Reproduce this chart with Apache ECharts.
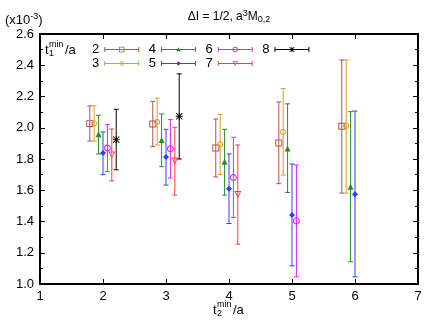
<!DOCTYPE html>
<html><head><meta charset="utf-8">
<script src="https://cdn.jsdelivr.net/npm/echarts@6/dist/echarts.min.js"></script>
<style>html,body{margin:0;padding:0;background:#fff}#c{width:436px;height:327px}</style>
</head><body><div id="c"></div>
<script>
// ---- data ----
const t2Values = [2, 3, 4, 5, 6];
const seriesNames = ['2', '3', '4', '5', '6', '7', '8'];
// each entry: [value, low, high] at t2 = 2..6 (null = not present), in units of 1e-3
const s2 = [[2.028,1.915,2.140],[2.024,1.879,2.169],[1.870,1.685,2.056],[1.902,1.642,2.165],[2.009,1.582,2.434]];
const s3 = [[2.028,1.915,2.140],[2.037,1.890,2.189],[1.894,1.700,2.084],[1.973,1.697,2.251],[2.012,1.582,2.434]];
const s4 = [[1.958,1.832,2.080],[1.922,1.751,2.088],[1.783,1.569,1.990],[1.868,1.586,2.153],[1.622,1.142,2.103]];
const s5 = [[1.838,1.700,1.973],[1.813,1.633,1.990],[1.610,1.387,1.832],[1.441,1.116,1.768],[1.575,1.046,2.107]];
const s6 = [[1.870,1.720,2.020],[1.866,1.678,2.052],[1.682,1.426,1.939],[1.404,1.046,1.761],null];
const s7 = [[1.825,1.660,1.992],[1.787,1.569,2.003],[1.573,1.255,1.890],null,null];
const s8 = [[1.924,1.731,2.118],[2.073,1.800,2.345],null,null,null];
const allSeries = [s2, s3, s4, s5, s6, s7, s8];
const xTickLabels = ['1','2','3','4','5','6','7'];
const yTickLabels = ['1.0','1.2','1.4','1.6','1.8','2.0','2.2','2.4','2.6'];

// ---- styles ----
const FONT = 'Liberation Sans, Arial, Helvetica, sans-serif';
const colors = ['#c24a4a', '#d4a020', '#2a8a2a', '#2a40ff', '#dd22ff', '#ff3a3a', '#000000'];
const jitter = 0.07; // horizontal display offset between series
function rectP(x0,y0,x1,y1,rev){ return rev ? `M${x0},${y0}L${x0},${y1}L${x1},${y1}L${x1},${y0}Z` : `M${x0},${y0}L${x1},${y0}L${x1},${y1}L${x0},${y1}Z`; }
function polyP(pts, rev){ if (rev) pts = pts.slice().reverse(); return 'M' + pts.map(p => p[0].toFixed(2)+','+p[1].toFixed(2)).join('L') + 'Z'; }
function circ(cx,cy,r,n){ n = n||24; const a=[]; for(let i=0;i<n;i++){const t=2*Math.PI*i/n; a.push([cx+r*Math.cos(t), cy+r*Math.sin(t)]);} return a; }
// marker shapes in a 0..100 box
const mk = {
  square: rectP(0,0,100,100) + rectP(14,14,86,86,true),
  circle: polyP(circ(50,50,50)) + polyP(circ(50,50,34), true),
  tri: polyP([[50,0],[100,90],[0,90]]),
  diamond: polyP([[50,0],[100,50],[50,100],[0,50]]),
  invtri: polyP([[0,5],[100,5],[50,95]]) + polyP([[20,17],[80,17],[50,70]], true),
  star: rectP(43,0,57,100) + rectP(0,43,100,57) + polyP([[10,0],[100,90],[90,100],[0,10]]) + polyP([[90,0],[100,10],[10,100],[0,90]])
};
const markerKind = ['square','circle','tri','diamond','circle','invtri','star'];
const markerSize = [7, 6, 6, 6, 7, 7, 7];
function placeMarker(path, size){
  const s = size*10/100, ox = 175 - size*5, oy = 40 - size*5;
  return path.replace(/(-?\d+(\.\d+)?),(-?\d+(\.\d+)?)/g, (m,a,b,c) => (ox + parseFloat(a)*s).toFixed(2) + ',' + (oy + parseFloat(c)*s).toFixed(2));
}
function legendIcon(i){
  let p = rectP(0,0,1,1) + rectP(0,79,1,80); // bbox anchors (tiny)
  p += rectP(0,35,350,45) + rectP(0,15,10,65) + rectP(340,15,350,65);
  p += placeMarker(mk[markerKind[i]], markerSize[i] - 1.5);
  return 'path://' + p;
}

const series = [];
seriesNames.forEach((name, i) => {
  const off = (i - 3) * jitter;
  const data = [];
  allSeries[i].forEach((v, j) => { if (v) data.push([t2Values[j] + off, v[0], v[1], v[2]]); });
  const col = colors[i];
  series.push({
    name, type: 'custom', xAxisIndex: 0, yAxisIndex: 0, z: 2,
    encode: { x: 0, y: [2, 3] },
    data,
    renderItem(params, api) {
      const x = api.value(0);
      const p1 = api.coord([x, api.value(2)]), p2 = api.coord([x, api.value(3)]);
      const w = 2.5, st = { stroke: col, lineWidth: 1 };
      return { type: 'group', children: [
        { type: 'line', shape: { x1: p1[0], y1: p1[1], x2: p2[0], y2: p2[1] }, style: st },
        { type: 'line', shape: { x1: p1[0]-w, y1: p1[1], x2: p1[0]+w, y2: p1[1] }, style: st },
        { type: 'line', shape: { x1: p2[0]-w, y1: p2[1], x2: p2[0]+w, y2: p2[1] }, style: st }
      ]};
    }
  });
  series.push({
    name, type: 'scatter', xAxisIndex: 0, yAxisIndex: 0, z: 3,
    data: data.map(d => [d[0], d[1]]),
    symbol: 'path://' + mk[markerKind[i]],
    symbolSize: markerSize[i],
    itemStyle: { color: col, opacity: 1 },
    emphasis: { disabled: true }
  });
});

function legendData(names){
  return names.map(n => { const i = seriesNames.indexOf(n); return { name: n, icon: legendIcon(i), itemStyle: { color: colors[i], borderWidth: 0 } }; });
}
const legendBase = {
  orient: 'horizontal', align: 'right', itemWidth: 35, itemHeight: 8, itemGap: 9.5,
  symbolRotate: 0, selectedMode: false,
  textStyle: { fontSize: 13, color: '#000', fontFamily: FONT }
};

const axisCommon = {
  axisLine: { show: true, lineStyle: { color: '#000', width: 2 } },
  axisTick: { show: true, inside: true, length: 5, lineStyle: { color: '#000', width: 1 } },
  splitLine: { show: false }
};
const xBase = Object.assign({ type: 'value', min: 1, max: 7, interval: 1 }, axisCommon);
const yBase = Object.assign({ type: 'value', min: 1.0, max: 2.6, interval: 0.2,
  minorTick: { show: true, splitNumber: 2, length: 3, lineStyle: { color: '#000', width: 1 } } }, axisCommon);

function stackedLabel(x, y, sub){
  return { type: 'group', x, y, children: [
    { type: 'text', x: 0, y: 0, style: { text: 't', fontSize: 13, fontFamily: FONT, fill: '#000', verticalAlign: 'middle' } },
    { type: 'text', x: 4, y: -5, style: { text: 'min', fontSize: 9, fontFamily: FONT, fill: '#000', verticalAlign: 'middle' } },
    { type: 'text', x: 4, y: 4, style: { text: sub, fontSize: 9, fontFamily: FONT, fill: '#000', verticalAlign: 'middle' } },
    { type: 'text', x: 20, y: 0, style: { text: '/a', fontSize: 13, fontFamily: FONT, fill: '#000', verticalAlign: 'middle' } }
  ]};
}

const chart = echarts.init(document.getElementById('c'), null, { renderer: 'canvas' });
chart.setOption({
  animation: false,
  backgroundColor: '#fff',
  grid: { left: 40, right: 18, top: 34, bottom: 43 },
  xAxis: [
    Object.assign({}, xBase, { position: 'bottom',
      axisLabel: { fontSize: 13, color: '#000', fontFamily: FONT, margin: 6,
        formatter: v => xTickLabels[Math.round(v) - 1] } }),
    Object.assign({}, xBase, { position: 'top', axisLabel: { show: false } })
  ],
  yAxis: [
    Object.assign({}, yBase, { position: 'left',
      axisLabel: { fontSize: 13, color: '#000', fontFamily: FONT, margin: 6,
        formatter: v => yTickLabels[Math.round((v - 1.0) / 0.2)] } }),
    Object.assign({}, yBase, { position: 'right', axisLabel: { show: false } })
  ],
  legend: [
    Object.assign({}, legendBase, { left: 87, top: 38, data: legendData(['2','4','6','8']) }),
    Object.assign({}, legendBase, { left: 87, top: 52, data: legendData(['3','5','7']) })
  ],
  graphic: [
    { type: 'text', x: 229, y: 17, style: { text: 'ΔI = 1/2, a{sup|3}M{sub|0,2}', fontSize: 12, fontFamily: FONT, fill: '#000',
      align: 'center', verticalAlign: 'middle',
      rich: { sup: { fontSize: 9, fontFamily: FONT, padding: [0,0,6,0] }, sub: { fontSize: 9, fontFamily: FONT, padding: [6,0,0,0] } } } },
    { type: 'text', x: 5, y: 20, style: { text: '(x10{sup|-3})', fontSize: 13, fontFamily: FONT, fill: '#000',
      align: 'left', verticalAlign: 'middle',
      rich: { sup: { fontSize: 9, fontFamily: FONT, padding: [0,0,6,0] } } } },
    stackedLabel(45, 50, '1'),
    stackedLabel(213, 310, '2')
  ],
  series
});
</script></body></html>
